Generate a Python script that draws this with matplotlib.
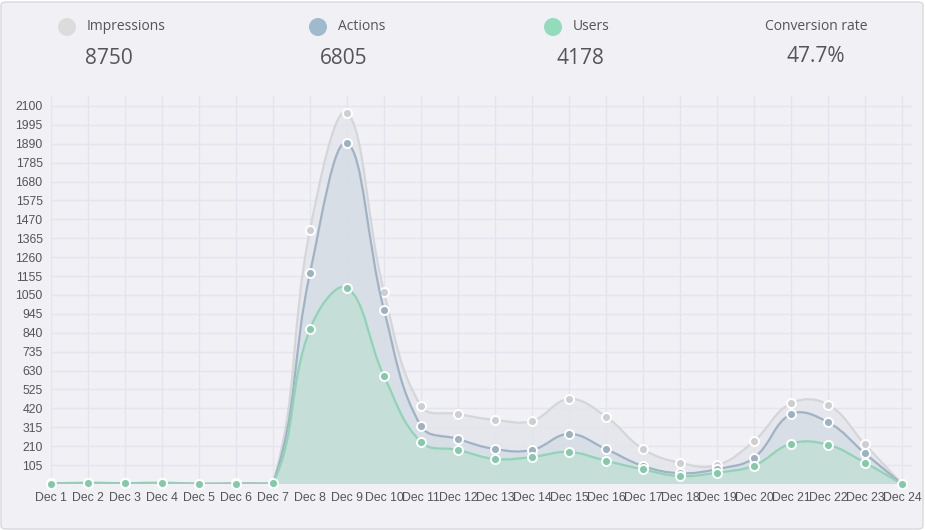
import matplotlib
matplotlib.use("Agg")
import matplotlib.pyplot as plt
from matplotlib.path import Path
from matplotlib.patches import PathPatch, FancyBboxPatch, Ellipse
import numpy as np

# datos
dias = ["Dec 1", "Dec 2", "Dec 3", "Dec 4", "Dec 5", "Dec 6", "Dec 7", "Dec 8",
        "Dec 9", "Dec 10", "Dec 11", "Dec 12", "Dec 13", "Dec 14", "Dec 15", "Dec 16",
        "Dec 17", "Dec 18", "Dec 19", "Dec 20", "Dec 21", "Dec 22", "Dec 23", "Dec 24"]
impressions = [3, 8, 5, 8, 2, 4, 6, 1411, 2061, 1067, 433, 389, 356, 350, 472, 374,
               194, 118, 104, 239, 448, 441, 220, 0]
actions = [2, 6, 4, 6, 1, 3, 4, 1172, 1894, 967, 322, 250, 194, 189, 278, 194,
           100, 60, 83, 146, 387, 343, 170, 0]
users = [2, 5, 3, 5, 1, 2, 3, 861, 1089, 600, 233, 189, 139, 150, 178, 129,
         81, 44, 63, 102, 224, 218, 118, 0]

resumen_nombres = ["Impressions", "Actions", "Users", "Conversion rate"]
resumen_valores = ["8750", "6805", "4178", "47.7%"]

yticks = list(range(105, 2101, 105))
ymax = 2155

W, H = 925, 530
PX_X = 37.0   # px por dia
PX_Y = 0.18   # px por unidad


def curva(xs, ys, t=0.4):
    # curva bezier tipo chart.js (tension 0.4), calculada en pixeles
    px = np.array(xs, float) * PX_X
    py = np.array(ys, float) * PX_Y
    n = len(px)
    cprev, cnext = [], []
    for i in range(n):
        a = max(i - 1, 0)
        b = min(i + 1, n - 1)
        d01 = np.hypot(px[i] - px[a], py[i] - py[a])
        d12 = np.hypot(px[b] - px[i], py[b] - py[i])
        tot = d01 + d12
        s01 = d01 / tot if tot else 0
        s12 = d12 / tot if tot else 0
        fa, fb = t * s01, t * s12
        dx, dy = px[b] - px[a], py[b] - py[a]
        ya = min(max(py[i] - fa * dy, 0), ymax * PX_Y)
        yb = min(max(py[i] + fb * dy, 0), ymax * PX_Y)
        cprev.append((px[i] - fa * dx, ya))
        cnext.append((px[i] + fb * dx, yb))
    verts = [(px[0], py[0])]
    codes = [Path.MOVETO]
    for i in range(n - 1):
        verts += [cnext[i], cprev[i + 1], (px[i + 1], py[i + 1])]
        codes += [Path.CURVE4] * 3
    verts = [(vx / PX_X, vy / PX_Y) for vx, vy in verts]
    return verts, codes


fig = plt.figure(figsize=(W / 100, H / 100), dpi=100)
fig.patch.set_facecolor("white")
fig.add_artist(FancyBboxPatch((1 / W, 1 / H), 1 - 3 / W, 1 - 3 / H,
                              boxstyle="round,pad=0,rounding_size=0.006",
                              transform=fig.transFigure, facecolor="#f0f0f5",
                              edgecolor="#d9d9de", linewidth=1, zorder=0))

ax = fig.add_axes([51 / W, 1 - 484 / H, (912 - 51) / W, (484 - 96) / H])
ax.set_facecolor("none")
x = np.arange(len(dias))

series = [
    (impressions, "#d5d6da", (228 / 255, 229 / 255, 234 / 255, 0.8), "#cdced2"),
    (actions, "#a0b3c5", (212 / 255, 220 / 255, 229 / 255, 0.8), "#9cb1c2"),
    (users, "#8fd5b5", (194 / 255, 223 / 255, 214 / 255, 0.85), "#82caa8"),
]
z = 2
for vals, linea, relleno, marca in series:
    verts, codes = curva(x, vals)
    area = verts + [(x[-1], 0), (x[0], 0), (x[0], 0)]
    acodes = codes + [Path.LINETO, Path.LINETO, Path.CLOSEPOLY]
    ax.add_patch(PathPatch(Path(area, acodes), facecolor=relleno,
                           edgecolor="none", zorder=z))
    ax.add_patch(PathPatch(Path(verts, codes), facecolor="none",
                           edgecolor=linea, linewidth=1.6, zorder=z + 0.1))
    ax.plot(x, vals, linestyle="none", marker="o", markersize=6.5,
            markerfacecolor=marca, markeredgecolor="white",
            markeredgewidth=1.4, zorder=z + 0.2, clip_on=False)
    z += 1

ax.set_xlim(0, 23 + 10 / 37)
ax.set_ylim(0, ymax)
ax.set_xticks(x)
ax.set_xticklabels(dias)
ax.set_yticks(yticks)
ax.grid(True, color="#e4e5ec", linewidth=1)
ax.set_axisbelow(True)
ax.tick_params(length=0, labelsize=8.8, colors="#555555")
ax.tick_params(axis="x", pad=6)
ax.tick_params(axis="y", pad=6)
for lab in ax.get_xticklabels() + ax.get_yticklabels():
    lab.set_family("Liberation Sans")
for s in ax.spines.values():
    s.set_visible(False)

# cabecera con los totales
colores_circ = ["#dcdcdc", "#9fbace", "#93dcbb", None]
circ_x = [67, 318, 553, None]
nombre_x = [87, 338, 573, 816]
valor_x = [109, 344, 580, 816]
for nom, val, col, cx, nx, vx in zip(resumen_nombres, resumen_valores,
                                     colores_circ, circ_x, nombre_x, valor_x):
    if col:
        fig.add_artist(Ellipse((cx / W, 1 - 27 / H), 18 / W, 18 / H,
                               transform=fig.transFigure, facecolor=col,
                               edgecolor="none"))
        fig.text(nx / W, 1 - 27 / H, nom, ha="left", va="center",
                 fontsize=10, color="#555555", family="Open Sans")
    else:
        fig.text(nx / W, 1 - 27 / H, nom, ha="center", va="center",
                 fontsize=10, color="#555555", family="Open Sans")
    fig.text(vx / W, 1 - (59 if col else 57) / H, val, ha="center", va="center",
             fontsize=15, color="#555555", family="Open Sans")

plt.savefig("out.png", dpi=100)
plt.close()
